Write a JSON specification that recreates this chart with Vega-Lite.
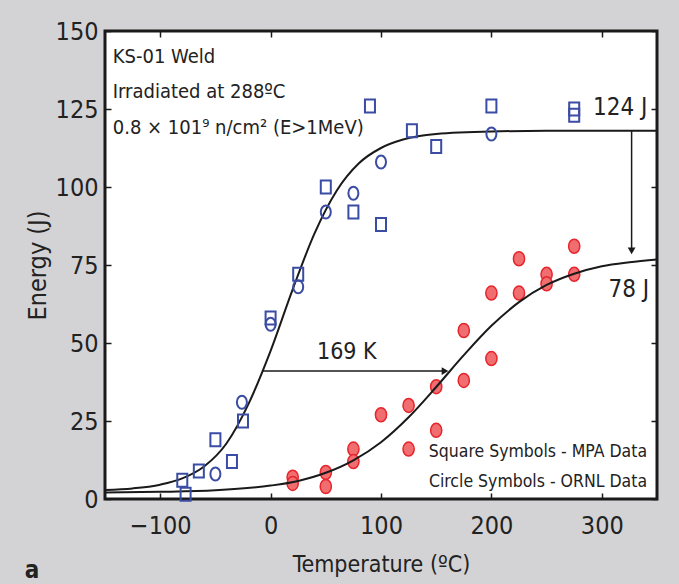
{
  "$schema": "https://vega.github.io/schema/vega-lite/v6.json",
  "width": 552,
  "height": 468,
  "autosize": {"type": "none"},
  "padding": {"left": 105, "top": 31, "right": 22, "bottom": 85},
  "background": "#d3d3d5",
  "config": {
    "view": {"fill": "white", "stroke": "#1a1a1a", "strokeWidth": 3},
    "font": "DejaVu Sans Condensed, sans-serif",
    "axis": {
      "labelFont": "DejaVu Sans Condensed, sans-serif",
      "titleFont": "DejaVu Sans Condensed, sans-serif",
      "labelFontSize": 25,
      "titleFontSize": 25,
      "labelColor": "#222",
      "titleColor": "#222",
      "titleFontWeight": "normal",
      "domain": false,
      "grid": false,
      "tickColor": "#1a1a1a",
      "tickWidth": 1.5,
      "tickSize": -6,
      "labelOverlap": false,
      "labelFlush": false
    }
  },
  "datasets": {
    "curves": [
      {"series": "unirradiated", "T": -150, "E": 2.9},
      {"series": "unirradiated", "T": -125, "E": 3.4},
      {"series": "unirradiated", "T": -100, "E": 4.6},
      {"series": "unirradiated", "T": -80, "E": 6.6},
      {"series": "unirradiated", "T": -60, "E": 10.5},
      {"series": "unirradiated", "T": -40, "E": 17.8},
      {"series": "unirradiated", "T": -20, "E": 30.5},
      {"series": "unirradiated", "T": 0, "E": 47.5},
      {"series": "unirradiated", "T": 20, "E": 67.2},
      {"series": "unirradiated", "T": 40, "E": 85.3},
      {"series": "unirradiated", "T": 60, "E": 98.9},
      {"series": "unirradiated", "T": 80, "E": 107.6},
      {"series": "unirradiated", "T": 100, "E": 112.5},
      {"series": "unirradiated", "T": 120, "E": 115.2},
      {"series": "unirradiated", "T": 150, "E": 117.0},
      {"series": "unirradiated", "T": 200, "E": 117.8},
      {"series": "unirradiated", "T": 250, "E": 118},
      {"series": "unirradiated", "T": 300, "E": 118},
      {"series": "unirradiated", "T": 350, "E": 118},
      {"series": "irradiated", "T": -150, "E": 2.1},
      {"series": "irradiated", "T": -100, "E": 2.3},
      {"series": "irradiated", "T": -50, "E": 2.8},
      {"series": "irradiated", "T": 0, "E": 4.3},
      {"series": "irradiated", "T": 25, "E": 5.8},
      {"series": "irradiated", "T": 50, "E": 8.4},
      {"series": "irradiated", "T": 75, "E": 12.4},
      {"series": "irradiated", "T": 100, "E": 18.2},
      {"series": "irradiated", "T": 125, "E": 26.2},
      {"series": "irradiated", "T": 150, "E": 35.9},
      {"series": "irradiated", "T": 175, "E": 46.1},
      {"series": "irradiated", "T": 200, "E": 55.5},
      {"series": "irradiated", "T": 225, "E": 63.1},
      {"series": "irradiated", "T": 250, "E": 68.6},
      {"series": "irradiated", "T": 275, "E": 72.2},
      {"series": "irradiated", "T": 300, "E": 74.6},
      {"series": "irradiated", "T": 325, "E": 75.9},
      {"series": "irradiated", "T": 350, "E": 76.8}
    ],
    "points": [
      {"source": "MPA", "condition": "unirradiated", "T": -80, "E": 6},
      {"source": "MPA", "condition": "unirradiated", "T": -77, "E": 1.5},
      {"source": "MPA", "condition": "unirradiated", "T": -65, "E": 9},
      {"source": "MPA", "condition": "unirradiated", "T": -50, "E": 19},
      {"source": "MPA", "condition": "unirradiated", "T": -35, "E": 12},
      {"source": "MPA", "condition": "unirradiated", "T": -25, "E": 25},
      {"source": "MPA", "condition": "unirradiated", "T": 0, "E": 58},
      {"source": "MPA", "condition": "unirradiated", "T": 25, "E": 72},
      {"source": "MPA", "condition": "unirradiated", "T": 50, "E": 100},
      {"source": "MPA", "condition": "unirradiated", "T": 75, "E": 92},
      {"source": "MPA", "condition": "unirradiated", "T": 90, "E": 126},
      {"source": "MPA", "condition": "unirradiated", "T": 100, "E": 88},
      {"source": "MPA", "condition": "unirradiated", "T": 128, "E": 118},
      {"source": "MPA", "condition": "unirradiated", "T": 150, "E": 113},
      {"source": "MPA", "condition": "unirradiated", "T": 200, "E": 126},
      {"source": "MPA", "condition": "unirradiated", "T": 275, "E": 125},
      {"source": "MPA", "condition": "unirradiated", "T": 275, "E": 123},
      {"source": "ORNL", "condition": "unirradiated", "T": -50, "E": 8},
      {"source": "ORNL", "condition": "unirradiated", "T": -26, "E": 31},
      {"source": "ORNL", "condition": "unirradiated", "T": 0, "E": 56},
      {"source": "ORNL", "condition": "unirradiated", "T": 25, "E": 68},
      {"source": "ORNL", "condition": "unirradiated", "T": 50, "E": 92},
      {"source": "ORNL", "condition": "unirradiated", "T": 75, "E": 98},
      {"source": "ORNL", "condition": "unirradiated", "T": 100, "E": 108},
      {"source": "ORNL", "condition": "unirradiated", "T": 200, "E": 117},
      {"source": "ORNL", "condition": "irradiated", "T": 20, "E": 7},
      {"source": "ORNL", "condition": "irradiated", "T": 20, "E": 5},
      {"source": "ORNL", "condition": "irradiated", "T": 50, "E": 8.5},
      {"source": "ORNL", "condition": "irradiated", "T": 50, "E": 4},
      {"source": "ORNL", "condition": "irradiated", "T": 75, "E": 16},
      {"source": "ORNL", "condition": "irradiated", "T": 75, "E": 12},
      {"source": "ORNL", "condition": "irradiated", "T": 100, "E": 27},
      {"source": "ORNL", "condition": "irradiated", "T": 125, "E": 30},
      {"source": "ORNL", "condition": "irradiated", "T": 125, "E": 16},
      {"source": "ORNL", "condition": "irradiated", "T": 150, "E": 36},
      {"source": "ORNL", "condition": "irradiated", "T": 150, "E": 22},
      {"source": "ORNL", "condition": "irradiated", "T": 175, "E": 54},
      {"source": "ORNL", "condition": "irradiated", "T": 175, "E": 38},
      {"source": "ORNL", "condition": "irradiated", "T": 200, "E": 66},
      {"source": "ORNL", "condition": "irradiated", "T": 200, "E": 45},
      {"source": "ORNL", "condition": "irradiated", "T": 225, "E": 77},
      {"source": "ORNL", "condition": "irradiated", "T": 225, "E": 66},
      {"source": "ORNL", "condition": "irradiated", "T": 250, "E": 72},
      {"source": "ORNL", "condition": "irradiated", "T": 250, "E": 69},
      {"source": "ORNL", "condition": "irradiated", "T": 275, "E": 81},
      {"source": "ORNL", "condition": "irradiated", "T": 275, "E": 72}
    ],
    "arrows": [
      {"name": "shift", "T": -7, "E": 41, "T2": 158, "E2": 41},
      {"name": "drop", "T": 327, "E": 118, "T2": 327, "E2": 79.5}
    ],
    "info": [
      {"label": "KS-01 Weld", "T": -143, "E": 141.7},
      {"label": "Irradiated at 288ºC", "T": -143, "E": 130.4},
      {"label": "0.8 × 101⁹ n/cm² (E>1MeV)", "T": -143, "E": 118.9}
    ],
    "values": [
      {"label": "124 J", "T": 292, "E": 125.4},
      {"label": "78 J", "T": 306, "E": 67.1}
    ],
    "shiftLabel": [
      {"label": "169 K", "T": 42, "E": 47.2}
    ],
    "legendText": [
      {"label": "Square Symbols - MPA Data", "T": 341, "E": 15.2},
      {"label": "Circle Symbols - ORNL Data", "T": 341, "E": 5.6}
    ],
    "panel": [
      {"label": "a", "T": -216, "E": -23}
    ]
  },
  "layer": [
    {
      "encoding": {
        "x": {
          "field": "T", "type": "quantitative",
          "scale": {"domain": [-150, 350], "nice": false, "zero": false},
          "axis": {"orient": "bottom", "values": [-100, 0, 100, 200, 300], "title": "Temperature (ºC)", "titleFontSize": 23, "labelPadding": 20, "titlePadding": 15}
        },
        "y": {
          "field": "E", "type": "quantitative",
          "scale": {"domain": [0, 150], "nice": false, "zero": false},
          "axis": {"orient": "left", "values": [0, 25, 50, 75, 100, 125, 150], "title": "Energy (J)", "labelPadding": 13, "titlePadding": 5}
        }
      },
      "layer": [
        {
          "data": {"name": "points"},
          "transform": [{"filter": "datum.condition === 'irradiated'"}],
          "mark": {"type": "point", "shape": "M0,-1A0.8,1 0 1,1 0,1A0.8,1 0 1,1 0,-1Z", "size": 196, "filled": true, "fill": "#f06d70", "stroke": "#e6262c", "strokeWidth": 1.5, "opacity": 1}
        },
        {
          "data": {"name": "curves"},
          "mark": {"type": "line", "color": "#1a1a1a", "strokeWidth": 2, "interpolate": "monotone"},
          "encoding": {"detail": {"field": "series"}}
        },
        {
          "data": {"name": "points"},
          "transform": [{"filter": "datum.condition === 'unirradiated' && datum.source === 'MPA'"}],
          "mark": {"type": "point", "shape": "M-0.77,-1H0.77V1H-0.77Z", "size": 169, "filled": false, "stroke": "#3a4ca3", "strokeWidth": 2, "opacity": 1}
        },
        {
          "data": {"name": "points"},
          "transform": [{"filter": "datum.condition === 'unirradiated' && datum.source === 'ORNL'"}],
          "mark": {"type": "point", "shape": "M0,-1A0.77,1 0 1,1 0,1A0.77,1 0 1,1 0,-1Z", "size": 169, "filled": false, "stroke": "#3a4ca3", "strokeWidth": 2, "opacity": 1}
        },
        {
          "data": {"name": "arrows"},
          "mark": {"type": "rule", "color": "#1a1a1a", "strokeWidth": 1.5},
          "encoding": {"x2": {"field": "T2"}, "y2": {"field": "E2"}}
        },
        {
          "data": {"name": "arrows"},
          "transform": [{"filter": "datum.name === 'shift'"}],
          "mark": {"type": "point", "shape": "triangle-right", "size": 60, "filled": true, "color": "#1a1a1a", "opacity": 1},
          "encoding": {"x": {"field": "T2", "type": "quantitative"}, "y": {"field": "E2", "type": "quantitative"}}
        },
        {
          "data": {"name": "arrows"},
          "transform": [{"filter": "datum.name === 'drop'"}],
          "mark": {"type": "point", "shape": "triangle-down", "size": 60, "filled": true, "color": "#1a1a1a", "opacity": 1},
          "encoding": {"x": {"field": "T2", "type": "quantitative"}, "y": {"field": "E2", "type": "quantitative"}}
        },
        {
          "data": {"name": "info"},
          "mark": {"type": "text", "align": "left", "baseline": "middle", "fontSize": 20, "color": "#222"},
          "encoding": {"text": {"field": "label"}}
        },
        {
          "data": {"name": "values"},
          "mark": {"type": "text", "align": "left", "baseline": "middle", "fontSize": 24, "color": "#222"},
          "encoding": {"text": {"field": "label"}}
        },
        {
          "data": {"name": "shiftLabel"},
          "mark": {"type": "text", "align": "left", "baseline": "middle", "fontSize": 23, "color": "#222"},
          "encoding": {"text": {"field": "label"}}
        },
        {
          "data": {"name": "legendText"},
          "mark": {"type": "text", "align": "right", "baseline": "middle", "fontSize": 17.5, "color": "#222"},
          "encoding": {"text": {"field": "label"}}
        },
        {
          "data": {"name": "panel"},
          "mark": {"type": "text", "align": "center", "baseline": "middle", "fontSize": 24, "fontWeight": "bold", "color": "#222"},
          "encoding": {"text": {"field": "label"}}
        }
      ]
    },
    {
      "data": {"name": "curves"},
      "mark": {"type": "point", "opacity": 0},
      "encoding": {
        "x": {
          "field": "T", "type": "quantitative",
          "scale": {"domain": [-150, 350], "nice": false, "zero": false},
          "axis": {"orient": "top", "values": [-100, 0, 100, 200, 300], "labels": false, "title": null}
        },
        "y": {
          "field": "E", "type": "quantitative",
          "scale": {"domain": [0, 150], "nice": false, "zero": false},
          "axis": {"orient": "right", "values": [0, 25, 50, 75, 100, 125, 150], "labels": false, "title": null}
        }
      }
    }
  ],
  "resolve": {"axis": {"x": "independent", "y": "independent"}}
}
